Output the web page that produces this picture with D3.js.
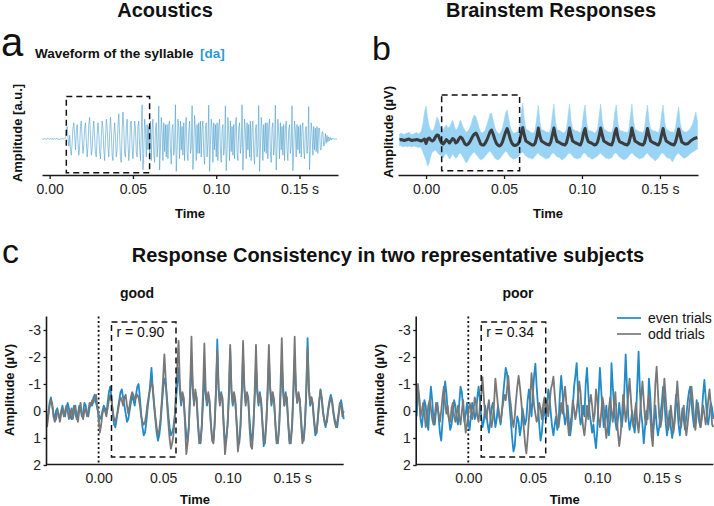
<!DOCTYPE html>
<html><head><meta charset="utf-8">
<script src="https://cdn.jsdelivr.net/npm/d3@7"></script>
<style>
body{margin:0;background:#fff}
svg{display:block}
text{font-family:"Liberation Sans",Arial,Helvetica,sans-serif;fill:#111}
</style>
</head><body>
<svg id="chart" width="714" height="506"></svg>
<script>
// ---------------- DATA ----------------
const timeTicks = [0, 0.05, 0.10, 0.15];
const timeTickLabels = ["0.00", "0.05", "0.10", "0.15 s"];
const ampTicks = [-3, -2, -1, 0, 1, 2];
const analysisWindow = [0.01, 0.06];
const subjectNames = ["good", "poor"];
const subjectR = ["0.90", "0.34"];
const legendLabels = ["even trials", "odd trials"];

// Panel a: acoustic waveform of [da] (arbitrary units), sampled every 0.5 ms
const acousticStart = -0.0045, acousticStep = 0.0005;
const acousticValues = [
 0,0.01,-0.01,0.01,0,-0.02,0.01,0.02,-0.01,0,0.01,-0.01,0.02,-0.02,0,0.01,-0.01,0.01,0.02,-0.01,0,-0.02,0.01,0,0.02,-0.01,0.01,0,0.03,
 0.15,0.35,0.05,-0.2,0.1,-0.3,-0.45,-0.1,0.3,0.45,0.1,-0.3,0.2,0.4,-0.1,-0.45,-0.2,0.35,0.5,0.0,
 -0.4,-0.15,0.3,0.45,-0.05,-0.5,-0.2,0.4,0.6,0.1,-0.45,-0.3,0.25,0.5,0.05,-0.4,-0.5,0.1,0.45,0.15,
 -0.35,-0.55,0.05,0.5,0.3,-0.3,-0.6,0.0,0.55,0.35,-0.2,-0.5,0.15,0.6,0.2,-0.45,-0.6,0.1,0.45,0.05,
 -0.5,-0.3,0.35,0.7,0.1,-0.55,-0.65,0.2,0.75,0.3,-0.4,-0.5,0.3,0.55,-0.1,-0.6,-0.3,0.45,0.5,-0.2,
 -0.55,-0.1,0.5,0.3,-0.35,-0.5,0.35,0.5,-0.2,-0.6,0.2,0.95,-0.85,-0.4,0.55,0.3,-0.5,0.4,-0.3,0.35,
 -0.45,0.5,-0.6,0.3,0.55,-0.4,-0.65,0.25,0.45,-0.5,-0.15,0.92,-0.86,-0.25,0.6,0.2,-0.6,0.45,-0.35,0.4,
 -0.5,0.4,-0.55,0.4,0.5,-0.3,-0.7,0.3,0.4,-0.45,-0.2,0.95,-0.9,-0.35,0.55,0.3,-0.55,0.5,-0.3,0.35,
 -0.45,0.45,-0.6,0.35,0.6,-0.35,-0.6,0.2,0.5,-0.4,-0.25,0.93,-0.85,-0.3,0.65,0.25,-0.6,0.4,-0.4,0.45,
 -0.4,0.5,-0.5,0.3,0.5,-0.4,-0.7,0.3,0.45,-0.5,-0.1,0.94,-0.9,-0.2,0.55,0.3,-0.65,0.45,-0.3,0.4,
 -0.5,0.45,-0.6,0.35,0.55,-0.3,-0.65,0.25,0.4,-0.45,-0.2,0.92,-0.88,-0.3,0.6,0.2,-0.6,0.5,-0.35,0.35,
 -0.45,0.4,-0.55,0.4,0.6,-0.35,-0.6,0.3,0.45,-0.4,-0.15,0.95,-0.87,-0.25,0.55,0.25,-0.55,0.45,-0.3,0.4,
 -0.5,0.5,-0.6,0.3,0.5,-0.4,-0.7,0.2,0.4,-0.5,-0.2,0.93,-0.9,-0.3,0.6,0.3,-0.6,0.4,-0.35,0.45,
 -0.4,0.45,-0.55,0.35,0.55,-0.35,-0.65,0.3,0.45,-0.45,-0.15,0.94,-0.86,-0.25,0.55,0.2,-0.55,0.45,-0.3,0.35,
 -0.45,0.4,-0.6,0.3,0.5,-0.3,-0.6,0.25,0.4,-0.4,-0.2,0.92,-0.88,-0.3,0.5,0.25,-0.5,0.4,-0.3,0.35,
 -0.4,0.4,-0.5,0.3,0.45,-0.3,-0.55,0.25,0.35,-0.4,-0.15,0.9,-0.85,-0.25,0.45,0.2,-0.45,0.35,-0.3,0.3,
 -0.35,0.35,-0.4,0.3,0.3,-0.3,-0.3,0.2,0.2,-0.2,-0.15,0.15,-0.12,0.1,-0.08,0.06,-0.05,0.04,-0.03,0.02,-0.01,0.01,0,0,0,0
];

// Panel b: brainstem responses (µV), mean and single-trial envelope, 1 ms steps
const brainStart = -0.017, brainStep = 0.001;
const brainMean = [
 0,0.05,0,-0.05,0,0.05,0.1,0,-0.05,0,0,0.05,0,-0.05,-0.1,0,0.1,
 -0.35,0.1,0.2,0,-0.1,0,0.3,0.5,0.45,0,
 -0.3,-0.4,-0.2,0.05,-0.1,-0.3,-0.1,0.15,0.05,-0.3,
 -0.2,0.1,0.3,0.2,-0.1,-0.4,-0.5,-0.4,-0.2,0.1,
 0.4,0.6,0.7,0.4,0,-0.4,-0.5,-0.5,-0.3,0,
 0.4,0.8,1.0,0.6,0.1,-0.3,-0.5,-0.6,-0.5,-0.2,
 0.3,0.8,1.15,0.7,0.1,-0.3,-0.5,-0.55,-0.5,-0.4,
 -0.1,0.6,1.25,0.5,-0.1,-0.2,-0.3,-0.4,-0.5,-0.5,
 -0.3,0.3,1.2,0.4,-0.1,-0.2,-0.3,-0.4,-0.45,-0.5,
 -0.2,0.5,1.2,0.4,-0.15,-0.2,-0.3,-0.4,-0.45,-0.5,
 -0.3,0.3,1.2,0.5,-0.1,-0.2,-0.3,-0.35,-0.45,-0.5,
 -0.1,0.7,1.15,0.3,-0.15,-0.25,-0.3,-0.4,-0.5,-0.45,
 -0.2,0.4,1.2,0.5,-0.1,-0.2,-0.3,-0.4,-0.45,-0.5,
 -0.1,0.7,1.15,0.3,-0.15,-0.25,-0.3,-0.4,-0.45,-0.5,
 -0.3,0.3,1.2,0.5,-0.1,-0.2,-0.3,-0.4,-0.45,-0.5,
 -0.3,0.3,1.15,0.5,-0.1,-0.2,-0.3,-0.35,-0.45,-0.5,
 -0.2,0.5,1.15,0.4,-0.1,-0.2,-0.3,-0.4,-0.45,-0.5,
 -0.2,0.4,1.1,0.4,-0.2,-0.3,-0.4,-0.4,-0.35,-0.2,
 -0.05,0.05,0.15,0.2,0.25
];
const brainUpper = [
 0.6,0.7,0.6,0.55,0.65,0.7,0.8,0.6,0.55,0.6,0.7,0.75,0.6,0.7,0.9,1.6,2.8,
 3.4,2.2,1.4,1.0,0.9,1.1,1.6,2.3,2.0,1.4,
 1.2,1.0,1.3,1.5,1.2,1.3,1.6,2.0,1.5,1.0,
 1.1,1.5,2.0,1.6,1.2,0.9,0.8,0.9,1.2,1.6,
 2.2,2.5,2.3,1.8,1.2,0.8,0.7,0.8,1.0,1.5,
 2.0,2.6,2.7,2.0,1.3,0.9,0.7,0.6,0.8,1.2,
 1.9,2.7,3.0,2.1,1.3,0.9,0.7,0.7,0.8,0.9,
 1.4,2.6,3.7,2.0,1.1,1.0,0.9,0.8,0.7,0.7,
 1.0,2.2,3.5,1.8,1.0,1.0,0.9,0.8,0.8,0.7,
 1.2,2.5,3.6,1.8,1.0,1.0,0.9,0.8,0.7,0.8,
 1.0,2.3,3.6,1.9,1.1,1.0,0.9,0.9,0.8,0.7,
 1.3,2.7,3.5,1.7,1.0,0.9,0.9,0.8,0.7,0.8,
 1.1,2.4,3.6,1.9,1.1,1.0,0.9,0.8,0.8,0.7,
 1.3,2.7,3.5,1.7,1.0,0.9,0.9,0.8,0.8,0.7,
 1.0,2.3,3.6,1.9,1.1,1.0,0.9,0.8,0.8,0.7,
 1.0,2.3,3.5,1.9,1.1,1.0,0.9,0.9,0.8,0.7,
 1.2,2.5,3.5,1.8,1.1,1.0,0.9,0.8,0.8,0.7,
 1.2,2.4,3.3,1.7,1.0,0.9,0.8,0.8,0.9,1.0,
 1.3,1.6,2.2,2.8,1.9
];
const brainLower = [
 -0.6,-0.55,-0.7,-0.65,-0.6,-0.7,-0.6,-0.65,-0.7,-0.6,-0.65,-0.7,-0.75,-0.7,-0.8,-1.2,-1.6,
 -2.0,-2.6,-2.3,-1.6,-1.2,-1.1,-1.0,-1.2,-1.4,-1.5,
 -1.6,-1.8,-1.5,-1.3,-1.6,-1.9,-1.7,-1.4,-1.6,-1.8,
 -1.7,-1.4,-1.3,-1.5,-1.8,-2.1,-2.3,-2.0,-1.7,-1.5,
 -1.3,-1.2,-1.4,-1.6,-1.8,-2.0,-1.9,-1.8,-1.6,-1.4,
 -1.2,-1.1,-1.3,-1.5,-1.8,-1.9,-2.0,-1.9,-1.7,-1.5,
 -1.3,-1.1,-1.2,-1.5,-1.7,-1.8,-1.9,-1.9,-1.8,-1.7,
 -1.5,-1.3,-1.2,-1.4,-1.6,-1.7,-1.8,-1.8,-1.9,-1.8,
 -1.6,-1.4,-1.3,-1.5,-1.6,-1.7,-1.8,-1.9,-1.8,-1.8,
 -1.5,-1.3,-1.3,-1.5,-1.7,-1.7,-1.8,-2.0,-1.9,-1.8,
 -1.6,-1.4,-1.3,-1.4,-1.6,-1.8,-1.8,-1.9,-1.8,-1.8,
 -1.5,-1.3,-1.3,-1.5,-1.7,-1.7,-1.9,-1.9,-1.8,-1.7,
 -1.6,-1.4,-1.3,-1.5,-1.6,-1.8,-1.8,-1.9,-1.8,-1.8,
 -1.5,-1.3,-1.3,-1.5,-1.7,-1.8,-1.9,-2.0,-1.9,-1.8,
 -1.6,-1.4,-1.3,-1.4,-1.6,-1.7,-1.8,-1.9,-1.8,-1.8,
 -1.6,-1.4,-1.3,-1.5,-1.7,-1.8,-1.9,-2.1,-1.9,-1.8,
 -1.5,-1.3,-1.3,-1.5,-1.7,-1.8,-1.8,-1.9,-2.2,-1.9,
 -1.6,-1.4,-1.3,-1.5,-1.6,-1.8,-1.8,-1.7,-1.6,-1.4,
 -1.3,-1.2,-1.1,-1.0,-0.9
];

// Panel c: even/odd trial averages (µV), 1 ms steps from -0.04 s
const trialStart = -0.04, trialStep = 0.001;
const goodEven = [
 0.4,0.1,-0.3,-0.5,-0.2,0.1,0.3,0.0,-0.1,0.2,
 0.3,0.0,-0.2,0.1,0.2,-0.1,-0.3,-0.1,0.2,0.3,
 0.0,-0.2,0.1,0.3,0.1,-0.2,-0.1,0.2,0.1,-0.3,
 -0.2,0.1,0.2,-0.1,-0.3,-0.2,-0.5,-0.6,-0.3,-0.1,
 0.1,0.3,0.2,0.0,-0.2,-0.1,0.1,-0.3,-0.7,-0.9,
 -0.5,0.1,0.5,0.6,0.3,-0.1,-0.4,-0.7,-0.8,-0.5,
 -0.2,0.1,0.4,0.3,0.0,-0.3,-0.6,-0.4,-0.2,-0.6,
 -0.9,-1.0,-0.5,0.1,0.6,0.9,0.8,0.4,-0.1,-0.5,
 -1.0,-1.6,-0.8,-0.2,0.3,0.8,1.1,0.9,0.5,-0.2,
 -0.8,-1.2,-1.0,-0.5,0.1,0.6,0.9,0.8,0.6,0.2,
 -0.4,-1.0,-1.6,-0.7,-0.2,-0.6,-0.4,0.3,0.9,1.1,
 0.5,-0.6,-2.0,-0.8,-0.3,-0.7,-0.5,0.4,1.0,1.2,
 0.6,-0.4,-1.3,-0.6,-0.2,-0.6,-0.3,0.5,1.0,1.1,
 0.5,-0.7,-2.65,-0.9,-0.3,-0.7,-0.4,0.5,1.2,1.0,
 0.5,-0.5,-2.3,-0.7,-0.2,-0.6,-0.3,0.4,1.1,1.2,
 0.6,-0.6,-2.0,-0.8,-0.3,-0.6,-0.4,0.3,0.9,1.1,
 0.5,-0.5,-1.6,-0.7,-0.2,-0.7,-0.3,0.5,1.3,1.0,
 0.4,-0.6,-2.0,-0.8,-0.2,-0.6,-0.4,0.4,1.1,1.2,
 0.6,-0.5,-1.8,-0.7,-0.2,-0.7,-0.3,0.5,1.2,1.0,
 0.5,-0.6,-1.9,-0.8,-0.3,-0.6,-0.4,0.3,1.0,1.1,
 0.5,-0.8,-2.7,-0.9,-0.2,-0.5,-0.2,0.4,0.9,0.8,
 0.3,-0.3,-0.8,-0.5,0.0,0.4,0.6,0.3,-0.1,-0.4,
 -0.6,-0.4,0.0,0.3,0.5,0.6,0.2,-0.2,-0.4,-0.1,
 0.3
];
const goodOdd = [
 0.6,0.2,-0.2,-0.4,-0.3,0.2,0.4,0.3,0.0,0.1,
 0.4,0.1,-0.1,0.2,0.0,-0.2,0.0,0.3,0.1,-0.1,
 0.3,0.0,-0.2,0.2,0.4,0.0,-0.3,0.1,0.3,0.0,
 -0.1,0.2,0.0,-0.3,-0.2,-0.4,-0.3,-0.5,-0.6,-0.2,
 0.3,0.8,0.5,0.1,-0.1,0.0,0.2,-0.1,-0.4,-0.6,
 -0.4,0.0,0.3,0.4,0.2,0.0,-0.3,-0.5,-0.4,-0.2,
 -0.5,-0.6,-0.2,0.1,-0.2,-0.5,-0.7,-0.6,-0.4,-0.5,
 -0.6,-0.5,-0.2,0.2,0.4,0.5,0.4,0.1,-0.3,-0.6,
 -0.8,-1.1,-0.9,-0.3,0.2,0.6,0.9,0.7,0.3,-0.4,
 -1.2,-2.1,-1.2,-0.3,0.4,1.0,1.4,1.2,0.9,0.3,
 -0.8,-1.7,-2.6,-1.0,-0.3,-0.7,-0.5,0.5,1.6,1.2,
 0.6,-0.9,-2.75,-0.9,-0.2,-0.8,-0.4,0.5,1.2,1.1,
 0.5,-0.8,-2.5,-0.8,-0.3,-0.7,-0.4,0.4,1.1,1.2,
 0.4,-0.8,-2.25,-0.8,-0.2,-0.6,-0.5,0.6,1.6,1.1,
 0.5,-0.7,-2.45,-0.8,-0.3,-0.7,-0.4,0.5,1.5,1.1,
 0.5,-0.8,-2.6,-0.9,-0.2,-0.7,-0.5,0.6,1.3,1.4,
 0.6,-0.7,-2.45,-0.8,-0.3,-0.6,-0.4,0.4,1.1,1.2,
 0.5,-0.8,-2.45,-0.9,-0.3,-0.7,-0.4,0.5,1.2,1.1,
 0.5,-0.9,-2.7,-0.9,-0.2,-0.6,-0.5,0.4,1.1,1.2,
 0.6,-0.9,-2.75,-0.8,-0.3,-0.7,-0.4,0.5,1.2,1.0,
 0.4,-0.7,-2.35,-0.8,-0.3,-0.5,-0.3,0.3,0.7,0.8,
 0.2,-0.4,-0.75,-0.4,0.1,0.3,0.5,0.4,0.0,-0.3,
 -0.5,-0.3,0.1,0.4,0.6,0.4,0.1,-0.3,-0.2,0.2,
 0.0
];
const poorEven = [
 0.2,-0.8,-0.5,0.3,0.6,0.1,-0.4,-0.2,0.4,0.7,
 -0.2,-0.9,-0.4,0.3,0.5,0.0,-0.3,0.2,0.8,1.1,
 0.4,-0.3,-1.1,-0.7,0.0,0.3,0.7,0.5,0.1,-0.4,
 -0.2,0.3,0.5,-0.3,-0.9,-0.7,-0.1,0.4,0.1,-0.3,
 0.4,0.7,0.2,-0.3,-0.1,0.3,0.1,-0.5,-0.9,-0.4,
 0.2,0.6,0.4,-0.2,0.1,0.5,0.8,0.4,-0.1,-0.3,
 0.1,0.6,0.3,-0.2,0.2,0.5,0.1,-0.6,-1.1,-1.6,
 -1.4,-0.8,-0.2,0.4,1.0,1.5,1.3,0.6,0.2,0.4,
 0.9,0.6,-0.1,0.2,0.5,0.3,-0.4,-0.8,-0.3,0.2,
 -0.6,-1.3,-1.75,-0.9,-0.2,0.5,1.1,0.8,0.2,-0.1,
 0.3,0.0,-0.8,-0.5,0.1,0.6,0.9,0.5,0.2,0.7,
 0.4,-0.6,-1.3,-0.7,0.1,0.5,0.2,-0.2,0.4,0.9,
 0.5,-0.1,-0.9,-1.3,-1.77,-0.8,0.0,0.5,0.3,-0.2,
 0.2,-1.0,-1.6,-0.7,0.1,0.4,0.8,0.5,1.0,1.38,
 0.7,-0.5,-1.6,-0.8,0.0,0.6,0.3,-0.2,0.5,0.9,
 0.3,-1.77,-0.9,-0.2,0.4,0.7,0.3,-0.3,0.2,0.6,
 0.1,-0.8,-2.1,-0.9,0.2,0.7,0.4,0.0,0.5,0.8,
 0.2,-1.0,-2.2,-0.8,0.1,0.5,1.2,0.6,0.0,0.3,
 -1.2,-0.6,0.3,0.8,0.4,-0.2,0.5,0.9,0.6,0.1,
 -0.3,-0.9,-0.4,0.4,0.9,0.5,0.0,0.6,1.0,0.7,
 0.2,-0.6,-0.2,0.5,0.9,0.4,-0.1,0.3,0.7,0.2,
 -0.3,-0.7,-0.9,-0.3,0.2,0.6,0.3,-0.4,-0.1,0.4,
 0.6,0.1,-0.6,-1.15,-0.5,0.2,0.5,0.1,-0.3,-0.1,
 0.3
];
const poorOdd = [
 -0.3,-1.0,-0.4,0.2,0.0,-0.3,0.1,0.6,0.3,-0.2,
 -0.4,-0.1,0.3,0.5,0.2,-0.3,-0.2,0.1,0.4,0.0,
 -0.5,-0.9,-0.3,0.1,-0.2,0.3,0.4,-0.1,-0.3,0.2,
 0.4,0.1,-0.2,0.2,0.5,0.0,-0.4,0.3,0.8,0.5,
 0.1,-0.3,-0.1,0.3,0.0,-0.5,-0.3,0.2,0.4,-0.2,
 -0.6,-1.25,-0.5,0.1,0.3,-0.1,-0.4,0.2,0.6,0.3,
 -0.3,-1.2,-0.7,-0.2,0.2,0.4,0.0,-0.3,-0.6,-0.4,
 -0.8,-1.3,-0.6,-0.2,0.3,0.6,0.2,-0.4,-0.9,-1.3,
 -0.9,-0.4,0.2,0.6,1.2,1.57,1.0,0.3,-0.4,-1.4,
 -0.8,-0.2,0.1,0.4,0.2,-0.3,-0.1,0.3,-0.2,-0.5,
 0.1,-0.4,0.2,-0.3,-0.8,-1.0,-1.27,-0.6,0.0,0.4,
 0.6,0.2,-0.3,0.1,-0.5,-0.9,-0.3,0.4,0.9,0.5,
 0.2,-0.4,-0.1,0.3,0.0,-0.5,-1.1,-0.7,0.1,0.6,
 0.9,0.4,-0.2,0.3,-0.3,-0.6,-0.2,0.4,0.1,-0.8,
 -0.4,0.3,0.6,0.1,-0.5,-0.2,0.5,1.0,0.6,-0.1,
 -0.5,0.0,0.4,-0.2,-0.7,0.2,0.8,1.3,0.9,0.3,
 -0.6,-0.2,0.4,0.0,-0.6,-1.2,-0.5,0.2,0.6,0.1,
 -0.3,0.4,0.8,0.2,-0.5,-1.1,-0.4,0.3,0.5,-0.2,
 -0.6,0.1,0.9,1.3,0.2,-1.0,-1.64,-0.7,0.2,0.6,
 0.3,-0.4,-1.2,-0.5,0.2,0.7,0.4,-0.2,0.3,0.8,
 0.4,-0.3,-1.1,-0.4,0.3,0.6,0.1,-0.2,0.4,0.9,
 0.5,0.0,-0.5,-0.9,-0.4,0.3,0.7,0.2,-0.3,0.1,
 0.6,0.3,-0.2,0.1,0.5,0.2,-0.4,-0.8,-0.2,0.5,
 0.6
];
// vertical extents of the dashed analysis-window boxes (in each panel's units)
const boxAmpA = [-0.94, 1.18];
const boxAmpB = [-3.07, 4.5];
const boxAmpC = [-3.3, 1.7];

// ---------------- DRAWING ----------------
const svg = d3.select("#chart");
const BLUE = "#1f8bc9", GRAY = "#787878", AX = "#1a1a1a";

function label(x, y, s, o = {}) {
  const t = svg.append("text").attr("x", x).attr("y", y).text(s)
    .attr("font-size", o.size || 14)
    .attr("font-weight", o.bold ? "bold" : "normal")
    .attr("text-anchor", o.anchor || "start");
  if (o.fill) t.style("fill", o.fill);
  if (o.rotate) t.attr("transform", `rotate(-90 ${x} ${y})`);
  return t;
}
function styleAxis(g) {
  g.select(".domain").attr("stroke", AX).attr("stroke-width", 1.6);
  g.selectAll(".tick line").attr("stroke", AX).attr("stroke-width", 1.3);
  g.selectAll(".tick text").attr("font-size", 14).style("fill", "#222")
    .attr("font-family", '"Liberation Sans",Arial,sans-serif');
}
function toPoints(start, step, vals) {
  return vals.map((v, i) => ({ t: start + i * step, v }));
}
function dashedBox(x, y, amp) {
  const ya = y(amp[0]), yb = y(amp[1]);
  svg.append("rect")
    .attr("x", x(analysisWindow[0])).attr("width", x(analysisWindow[1]) - x(analysisWindow[0]))
    .attr("y", Math.min(ya, yb)).attr("height", Math.abs(ya - yb))
    .attr("fill", "none").attr("stroke", "#111").attr("stroke-width", 1.5)
    .attr("stroke-dasharray", "6,4");
}

// Titles
label(165, 17, "Acoustics", { size: 20, bold: true, anchor: "middle" });
label(551, 17, "Brainstem Responses", { size: 20, bold: true, anchor: "middle" });
label(388, 262, "Response Consistency in two representative subjects", { size: 20, bold: true, anchor: "middle" });
label(1, 56, "a", { size: 40 });
label(372, 60, "b", { size: 34 });
label(2, 263, "c", { size: 34 });

// ---- Panel a
const xA = d3.scaleLinear().domain([-0.0046, 0.1731]).range([42, 338]);
const yA = d3.scaleLinear().domain([-1, 1.36]).range([175, 90]);
label(35, 58, "Waveform of the syllable", { size: 13.5, bold: true });
label(200, 58, "[da]", { size: 13.5, bold: true, fill: "#2d9ad3" });
svg.append("path").datum(toPoints(acousticStart, acousticStep, acousticValues))
  .attr("fill", "none").attr("stroke", "#4a9dcb").attr("stroke-width", 0.6)
  .attr("d", d3.line().x(d => xA(d.t)).y(d => yA(d.v)));
dashedBox(xA, yA, boxAmpA);
const axA = svg.append("g").attr("transform", "translate(0,175)")
  .call(d3.axisBottom(xA).tickValues(timeTicks).tickFormat((d, i) => timeTickLabels[i])
    .tickSize(4).tickSizeOuter(0).tickPadding(5));
styleAxis(axA);
label(22, 133, "Amplitude [a.u.]", { size: 13, bold: true, anchor: "middle", rotate: true });
label(190, 218, "Time", { size: 13, bold: true, anchor: "middle" });

// ---- Panel b
const xB = d3.scaleLinear().domain([-0.018, 0.1744]).range([398, 698]);
const yB = d3.scaleLinear().domain([-3.5, 5.5]).range([175, 85]);
const bPts = brainMean.map((m, i) => ({ t: brainStart + i * brainStep, m, u: brainUpper[i], l: brainLower[i] }));
svg.append("path").datum(bPts).attr("fill", "#9ad4f4").attr("stroke", "#9ad4f4").attr("stroke-width", 0.6)
  .attr("d", d3.area().x(d => xB(d.t)).y0(d => yB(d.l)).y1(d => yB(d.u)));
svg.append("path").datum(bPts).attr("fill", "none").attr("stroke", "#3c3c3c").attr("stroke-width", 3)
  .attr("stroke-linejoin", "round")
  .attr("d", d3.line().x(d => xB(d.t)).y(d => yB(d.m)));
dashedBox(xB, yB, boxAmpB);
const axB = svg.append("g").attr("transform", "translate(0,175)")
  .call(d3.axisBottom(xB).tickValues(timeTicks).tickFormat((d, i) => timeTickLabels[i])
    .tickSize(4).tickSizeOuter(0).tickPadding(5));
styleAxis(axB);
label(393, 132, "Amplitude (µV)", { size: 13, bold: true, anchor: "middle", rotate: true });
label(548, 218, "Time", { size: 13, bold: true, anchor: "middle" });

// ---- Panel c
const yC = d3.scaleLinear().domain([-3.5, 2]).range([316.5, 465]);
const panels = [
  { x0: 47, even: goodEven, odd: goodOdd, nameX: 137, ylabX: 14 },
  { x0: 416.7, even: poorEven, odd: poorOdd, nameX: 518, ylabX: 384 }
];
panels.forEach((p, k) => {
  const x = d3.scaleLinear().domain([-0.04, 0.19]).range([p.x0, p.x0 + 296.7]);
  label(p.nameX, 298, subjectNames[k], { size: 14, bold: true, anchor: "middle" });
  svg.append("line").attr("x1", x(0)).attr("x2", x(0)).attr("y1", yC(-3.5)).attr("y2", yC(2))
    .attr("stroke", "#111").attr("stroke-width", 1.8).attr("stroke-dasharray", "2,2.5");
  const ln = d3.line().x(d => x(d.t)).y(d => yC(d.v));
  svg.append("path").datum(toPoints(trialStart, trialStep, p.even)).attr("fill", "none")
    .attr("stroke", BLUE).attr("stroke-width", 1.8).attr("stroke-linejoin", "round").attr("d", ln);
  svg.append("path").datum(toPoints(trialStart, trialStep, p.odd)).attr("fill", "none")
    .attr("stroke", GRAY).attr("stroke-width", 1.8).attr("stroke-linejoin", "round").attr("d", ln);
  dashedBox(x, yC, boxAmpC);
  label(x(0.01) + 5, 337, "r = " + subjectR[k], { size: 14 });
  const gx = svg.append("g").attr("transform", "translate(0,464)")
    .call(d3.axisBottom(x).tickValues(timeTicks).tickFormat((d, i) => timeTickLabels[i])
      .tickSize(0).tickSizeOuter(0).tickPadding(9));
  styleAxis(gx);
  gx.select(".domain").attr("d", `M${p.x0},0.5H${p.x0 + 296.7}`);
  const gy = svg.append("g").attr("transform", `translate(${p.x0},0)`)
    .call(d3.axisLeft(yC).tickValues(ampTicks).tickFormat(d => String(d))
      .tickSize(3.5).tickSizeOuter(0).tickPadding(2.5));
  styleAxis(gy);
  gy.select(".domain").attr("d", "M-0.5,316.5V465");
  label(p.ylabX, 390, "Amplitude (µV)", { size: 13, bold: true, anchor: "middle", rotate: true });
  label(p.x0 + 148, 504, "Time", { size: 13, bold: true, anchor: "middle" });
});

// legend
[BLUE, GRAY].forEach((c, i) => {
  svg.append("line").attr("x1", 617).attr("x2", 641).attr("y1", 318 + i * 16).attr("y2", 318 + i * 16)
    .attr("stroke", c).attr("stroke-width", 1.7);
  label(648, 323 + i * 16, legendLabels[i], { size: 14 });
});
</script>
</body></html>
